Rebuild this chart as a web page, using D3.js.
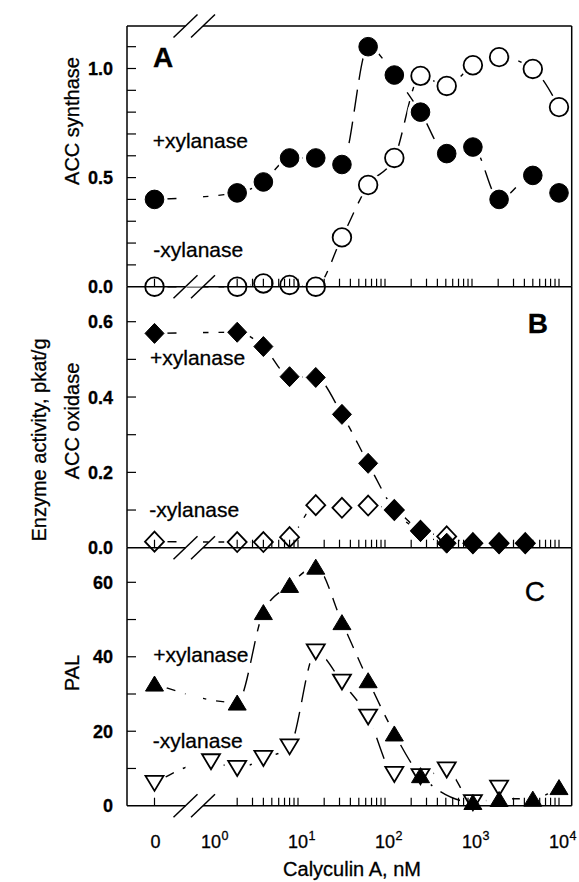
<!DOCTYPE html>
<html><head><meta charset="utf-8">
<script src="https://cdn.jsdelivr.net/npm/d3@7"></script>
<style>body{margin:0;background:#fff} text{font-family:"Liberation Sans",Arial,Helvetica,sans-serif;fill:#000;stroke:#000;stroke-width:0.3}</style>
</head><body><svg id="c" width="579" height="882"></svg>
<script>
// ---------------- data ----------------
const doseA = [0,2,4,8,16,32,64,128,256,512,1024,2048,5000,10000];
const accsPlus  = [0.40,0.43,0.48,0.59,0.59,0.56,1.10,0.97,0.80,0.61,0.64,0.40,0.51,0.43];
const accsMinus = [0.00,0.00,0.015,0.008,0.00,0.226,0.466,0.59,0.966,0.92,1.015,1.052,0.998,0.823];
const doseB = [0,2,4,8,16,32,64,128,256,512,1024,2048,4096];
const accoPlus  = [0.569,0.572,0.534,0.454,0.452,0.354,0.224,0.100,0.043,0.012,0.011,0.011,0.011];
const accoMinus = [0.016,0.015,0.015,0.028,0.113,0.106,0.112,0.100,0.045,0.030,0.012,0.012,0.012];
const doseCPlus  = [0,2,4,8,16,32,64,128,256,1024,2048,5000,10000];
const palPlus    = [32.8,27.7,52.0,59.3,64.2,49.3,33.7,19.4,8.2,1.0,1.8,1.9,5.0];
const doseCMinus = [0,1,2,4,8,16,32,64,128,256,512,1024,2048];
const palMinus   = [6.0,11.8,10.0,12.7,15.8,41.3,33.2,23.8,8.4,7.8,9.6,0.8,4.7];
const yTicksA = [0,0.5,1.0], yLabelsA = ["0.0","0.5","1.0"];
const yTicksB = [0,0.2,0.4,0.6], yLabelsB = ["0.0","0.2","0.4","0.6"];
const yTicksC = [0,20,40,60], yLabelsC = ["0","20","40","60"];
const xDecades = [0,1,2,3,4];

// ---------------- layout ----------------
const L = 127, R = 571.7;
const svg = d3.select("#c");
const xLog = d3.scaleLog().domain([1,10000]).range([211,559]);
const X0 = 154.5;
const xp = v => v === 0 ? X0 : xLog(v);
const brk1 = 185.5, brk2 = 203;

const panels = [
  {id:"A", top:26, bottom:286.7, y:d3.scaleLinear().domain([0,1]).range([286.7,68.5]), minor:d3.range(1,12).map(i=>i/10),
   ticks:yTicksA, labels:yLabelsA,
   series:[{x:doseA,v:accsPlus,shape:"circle",fill:true},{x:doseA,v:accsMinus,shape:"circle",fill:false}],
   letter:{t:"A",x:153,y:66.7,anchor:"start",bold:true}, plus:[152.7,147.7], minus:[153.3,257.3]},
  {id:"B", top:286.7, bottom:547.7, y:d3.scaleLinear().domain([0,0.6]).range([547.7,321.7]), minor:d3.range(1,7).map(i=>i/10),
   ticks:yTicksB, labels:yLabelsB,
   series:[{x:doseB,v:accoMinus,shape:"diamond",fill:false},{x:doseB,v:accoPlus,shape:"diamond",fill:true}],
   letter:{t:"B",x:548,y:333.3,anchor:"end",bold:true}, plus:[150,365], minus:[149.3,517.3]},
  {id:"C", top:547.7, bottom:805.7, y:d3.scaleLinear().domain([0,60]).range([805.7,582.3]), minor:d3.range(10,70,10),
   ticks:yTicksC, labels:yLabelsC,
   series:[{x:doseCMinus,v:palMinus,shape:"tdown",fill:false},{x:doseCPlus,v:palPlus,shape:"tup",fill:true}],
   letter:{t:"C",x:545,y:601,anchor:"end",bold:false}, plus:[153.3,661.7], minus:[152.7,748.3]}
];

const shapes = {
  diamond:"M0,-10L9.5,0L0,10L-9.5,0Z",
  tup:"M0,-7.5L9,7.5L-9,7.5Z",
  tdown:"M0,7.5L9,-7.5L-9,-7.5Z"
};

const defs = svg.append("defs");
const xMinor = [];
for (let k=0;k<4;k++) for (let m=2;m<=10;m++) xMinor.push(m*Math.pow(10,k));

panels.forEach(p => {
  const g = svg.append("g");
  const mask = defs.append("mask").attr("id","m"+p.id).attr("maskUnits","userSpaceOnUse")
    .attr("x",0).attr("y",0).attr("width",579).attr("height",882);
  mask.append("rect").attr("x",0).attr("y",0).attr("width",579).attr("height",882).attr("fill","#fff");
  mask.append("rect").attr("x",brk1).attr("y",p.top).attr("width",brk2-brk1).attr("height",p.bottom-p.top).attr("fill","#000");
  p.series.forEach(s => s.x.forEach((d,i)=>{
    mask.append("circle").attr("cx",xp(d)).attr("cy",p.y(s.v[i])).attr("r",13).attr("fill","#000");
  }));
  const lg = g.append("g").attr("mask","url(#m"+p.id+")");
  p.series.forEach(s => {
    const pts = s.x.map((d,i)=>[xp(d), p.y(s.v[i])]);
    lg.append("path").attr("d", d3.line().curve(d3.curveMonotoneX)(pts))
      .attr("fill","none").attr("stroke","#000").attr("stroke-width",1.4).attr("stroke-dasharray","22,10");
  });
  g.append("line").attr("x1",L).attr("x2",L).attr("y1",p.top).attr("y2",p.bottom).attr("stroke","#000").attr("stroke-width",1.5);
  g.append("line").attr("x1",R).attr("x2",R).attr("y1",p.top).attr("y2",p.bottom).attr("stroke","#000").attr("stroke-width",1.5);
  const hl = [p.bottom]; if (p.id==="A") hl.push(p.top);
  hl.forEach(yy => {
    g.append("line").attr("x1",L).attr("x2",brk1).attr("y1",yy).attr("y2",yy).attr("stroke","#000").attr("stroke-width",1.5);
    g.append("line").attr("x1",brk2).attr("x2",R).attr("y1",yy).attr("y2",yy).attr("stroke","#000").attr("stroke-width",1.5);
    [brk1,brk2].forEach(cx => g.append("line").attr("x1",cx-12).attr("y1",yy+11.5).attr("x2",cx+12).attr("y2",yy-11.5)
      .attr("stroke","#000").attr("stroke-width",1.5));
  });
  [0].concat(xMinor).forEach(v => {
    g.append("line").attr("x1",xp(v)).attr("x2",xp(v)).attr("y1",p.bottom).attr("y2",p.bottom-8)
      .attr("stroke","#000").attr("stroke-width",1.2);
  });
  p.minor.forEach(v => {
    g.append("line").attr("x1",L).attr("x2",L+9).attr("y1",p.y(v)).attr("y2",p.y(v)).attr("stroke","#000").attr("stroke-width",1.2);
  });
  p.ticks.forEach((v,i) => {
    g.append("text").attr("x",113).attr("y",p.y(v)+6.5).attr("text-anchor","end")
      .attr("font-size",18).attr("font-weight","bold").text(p.labels[i]);
  });
  p.series.forEach(s => s.x.forEach((d,i)=>{
    const cx = xp(d), cy = p.y(s.v[i]);
    let el;
    if (s.shape==="circle") el = g.append("circle").attr("cx",cx).attr("cy",cy).attr("r",9.3);
    else el = g.append("path").attr("d",shapes[s.shape]).attr("transform",`translate(${cx},${cy})`);
    el.attr("fill", s.fill ? "#000" : "none").attr("stroke","#000").attr("stroke-width", s.fill ? 1 : 1.8);
  }));
  g.append("text").attr("x",p.letter.x).attr("y",p.letter.y).attr("text-anchor",p.letter.anchor)
    .attr("font-size",28).attr("font-weight",p.letter.bold?"bold":"normal").text(p.letter.t);
  g.append("text").attr("x",p.plus[0]).attr("y",p.plus[1]).attr("font-size",21).text("+xylanase");
  g.append("text").attr("x",p.minus[0]).attr("y",p.minus[1]).attr("font-size",21).text("-xylanase");
});

svg.append("text").attr("x",X0+1).attr("y",848).attr("text-anchor","middle").attr("font-size",18).text("0");
xDecades.forEach(k => {
  const x = xLog(Math.pow(10,k));
  svg.append("text").attr("x",x).attr("y",848).attr("text-anchor","middle").attr("font-size",18).text("10");
  svg.append("text").attr("x",x+10.5).attr("y",840).attr("font-size",12.5).text(String(k));
});
svg.append("text").attr("x",352).attr("y",876).attr("text-anchor","middle").attr("font-size",20).text("Calyculin A, nM");
const rot = (t,x,y,fs) => svg.append("text").attr("transform",`translate(${x},${y}) rotate(-90)`)
  .attr("text-anchor","middle").attr("font-size",fs).text(t);
rot("Enzyme activity, pkat/g",46,440,20);
rot("ACC synthase",79,121,20);
rot("ACC oxidase",79,421,20);
rot("PAL",79,673,20);
</script></body></html>
